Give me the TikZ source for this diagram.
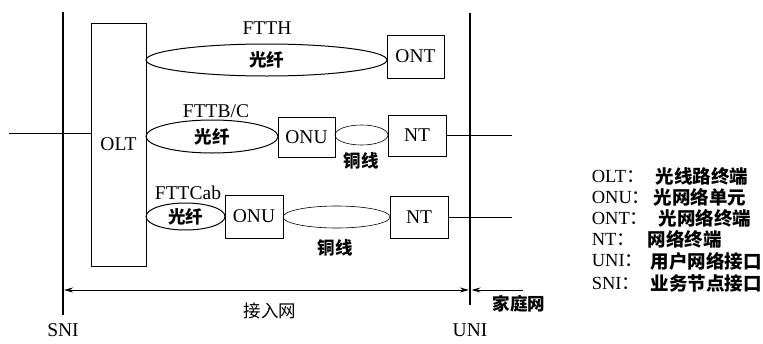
\documentclass[tikz,border=0pt]{standalone}
\usepackage{fontspec}
\setmainfont{Liberation Serif}
\newfontfamily\cjk{Noto Sans CJK SC}
\usetikzlibrary{positioning,arrows.meta,shapes.geometric}
\tikzset{
  unit/.style={draw,line width=1pt,inner sep=0pt,font=\fontsize{19.5}{21}\selectfont},
  fibre/.style={draw,ellipse,line width=1pt,inner sep=0pt,font=\cjk\bfseries\fontsize{17.5}{19}\selectfont},
  copper/.style={draw,ellipse,line width=0.6pt,inner sep=0pt},
  zh/.style={font=\cjk\bfseries\fontsize{17.5}{19}\selectfont},
  en/.style={font=\fontsize{19.5}{21}\selectfont},
}
\begin{document}
\begin{tikzpicture}[x=1pt,y=-1pt,>={Stealth[length=9pt,width=5pt]},line width=1pt]
\useasboundingbox (0,0) rectangle (763,343);
% interfaces
\coordinate (sniT) at (63,12);
\coordinate (sniB) at (63,315);
\coordinate (uniT) at (470,13);
\coordinate (uniB) at (470,305);
\draw[line width=1.2pt] (sniT) -- (sniB);
\draw[line width=1.2pt] (uniT) -- (uniB);
\node[en] (sni) at (63,330) {SNI};
\node[en] (uni) at (470,330) {UNI};
% units
\node[unit,minimum width=55pt,minimum height=243pt] (olt) at (118.5,144.5) {OLT};
\node[unit,minimum width=57pt,minimum height=43pt] (ont) at (415.5,56.5) {ONT};
\node[unit,minimum width=57pt,minimum height=40pt] (onuB) at (306.5,137) {ONU};
\node[unit,minimum width=58pt,minimum height=41pt] (ntB) at (417,135.5) {NT};
\node[unit,minimum width=58pt,minimum height=43pt] (onuC) at (254,216.5) {ONU};
\node[unit,minimum width=58pt,minimum height=42pt] (ntC) at (419,217) {NT};
% fibre and copper
\node[fibre,minimum width=241pt,minimum height=32pt] (fibH) at (266.5,60) {光纤};
\node[fibre,minimum width=132pt,minimum height=33pt] (fibB) at (212,136.5) {光纤};
\node[fibre,minimum width=79pt,minimum height=27pt] (fibC) at (185.5,216.5) {光纤};
\node[copper,minimum width=53pt,minimum height=20pt] (cuB) at (361.5,135) {};
\node[copper,minimum width=107pt,minimum height=22pt] (cuC) at (336.5,217) {};
\node[zh] (cuBlab) at (361,161) {铜线};
\node[zh] (cuClab) at (335,248) {铜线};
% names
\node[en] (labH) at (267,28) {FTTH};
\node[en] (labB) at (216,111) {FTTB/C};
\node[en] (labC) at (188,193) {FTTCab};
% lines in and out
\coordinate (in) at (9,133);
\coordinate (outB) at (512,135.5);
\coordinate (outC) at (512,217);
\draw (in) -- (in -| olt.west);
\draw (ntB) -- (outB);
\draw (ntC) -- (outC);
% access network span
\coordinate (spanL) at (63,290);
\coordinate (spanR) at (470,290);
\coordinate (homeR) at (523,290);
\draw[<->,shorten <=1pt,shorten >=1pt] (spanL) -- (spanR);
\draw[->,shorten >=1.5pt] (homeR) -- (spanR);
\node[font=\cjk\fontsize{17.5}{19}\selectfont] (acc) at (270,311) {接入网};
\node[zh] (home) at (519,304) {家庭网};
% legend
\foreach \y/\ab/\x/\zhtxt in {176/OLT/652/光线路终端,197/ONU/650/光网络单元,218/ONT/655/光网络终端,239/NT/644/网络终端,261/UNI/647/用户网络接口,283/SNI/647/业务节点接口}{
  \node[en,anchor=west,font=\fontsize{18.5}{20}\selectfont] (leg\ab) at (588,\y) {\ab{\cjk ：}};
  \node[zh,anchor=west,font=\cjk\bfseries\fontsize{18.5}{20}\selectfont] (def\ab) at (\x,\y) {\zhtxt};
}
\end{tikzpicture}
\end{document}
